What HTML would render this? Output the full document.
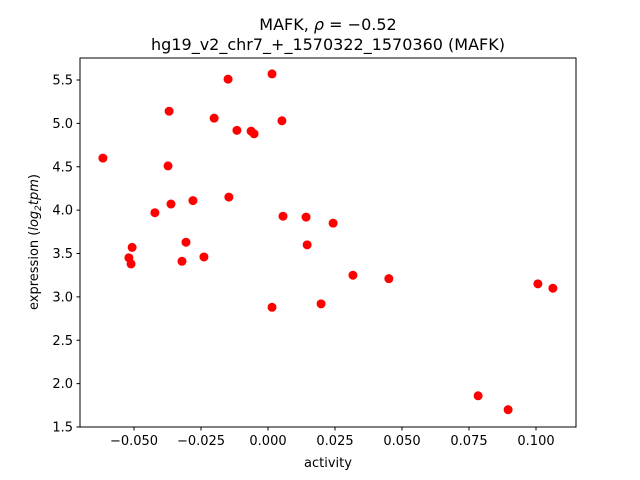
<!DOCTYPE html>
<html><head><meta charset="utf-8"><style>
body{margin:0;background:#fff}
svg{display:block;font-family:"DejaVu Sans","Liberation Sans",sans-serif}
</style></head><body>
<svg id="c" width="640" height="480">
<rect width="640" height="480" fill="#fff"/>
<text x="328" y="30" text-anchor="middle" font-size="16">MAFK, <tspan font-style="italic">ρ</tspan> = −0.52</text>
<text x="328" y="50" text-anchor="middle" font-size="16">hg19_v2_chr7_+_1570322_1570360 (MAFK)</text>
<text x="328" y="467" text-anchor="middle" font-size="13">activity</text>
<text transform="translate(38,242) rotate(-90)" text-anchor="middle" font-size="13">expression (<tspan font-style="italic">log</tspan><tspan font-size="9" dy="3" font-style="italic">2</tspan><tspan dy="-3" font-style="italic">tpm</tspan>)</text>
<g id="ticks"></g>
<g id="pts"></g>
<rect x="80" y="58" width="496" height="369" fill="none" stroke="#000" stroke-width="1"/>
</svg>
<script>
const xVals=[-0.0616,-0.0369,-0.0373,-0.0149,0.0015,-0.0201,-0.0116,-0.0063,-0.0052,0.0052,-0.0422,-0.0362,-0.028,-0.0146,0.0056,0.0142,0.0243,0.0146,-0.0507,-0.0306,-0.0519,-0.0511,-0.0321,-0.0239,0.0317,0.0451,0.0015,0.0198,0.0784,0.0896,0.1007,0.1063];
const yVals=[4.60,5.14,4.51,5.51,5.57,5.06,4.92,4.91,4.88,5.03,3.97,4.07,4.11,4.15,3.93,3.92,3.85,3.60,3.57,3.63,3.45,3.38,3.41,3.46,3.25,3.21,2.88,2.92,1.86,1.70,3.15,3.10];
const xTicks=[-0.05,-0.025,0,0.025,0.05,0.075,0.1];
const xTickLabels=["−0.050","−0.025","0.000","0.025","0.050","0.075","0.100"];
const yTicks=[1.5,2.0,2.5,3.0,3.5,4.0,4.5,5.0,5.5];
const yTickLabels=["1.5","2.0","2.5","3.0","3.5","4.0","4.5","5.0","5.5"];
const NS="http://www.w3.org/2000/svg";
const xs=v=>268+v*2680, ys=v=>427-(v-1.5)*86.75;
const T=document.getElementById('ticks'),P=document.getElementById('pts');
function mk(tag,a,p){const e=document.createElementNS(NS,tag);for(const k in a)e.setAttribute(k,a[k]);p.appendChild(e);return e;}
xTicks.forEach((v,i)=>{const x=xs(v);
const l=mk('line',{x1:x,x2:x,y1:427,y2:430.5,stroke:'#000'},T);


const t=mk('text',{x:x,y:445,'text-anchor':'middle','font-size':'13'},T);t.textContent=xTickLabels[i];

});
yTicks.forEach((v,i)=>{const y=ys(v);
const l=mk('line',{x1:76.5,x2:80,y1:y,y2:y,stroke:'#000'},T);


const t=mk('text',{x:73,y:y+4.5,'text-anchor':'end','font-size':'13'},T);t.textContent=yTickLabels[i];

});
xVals.forEach((v,i)=>{const c=mk('circle',{cx:xs(v),cy:ys(yVals[i]),r:4.5,fill:'#ff0000'},P);

});
</script>
</body></html>
